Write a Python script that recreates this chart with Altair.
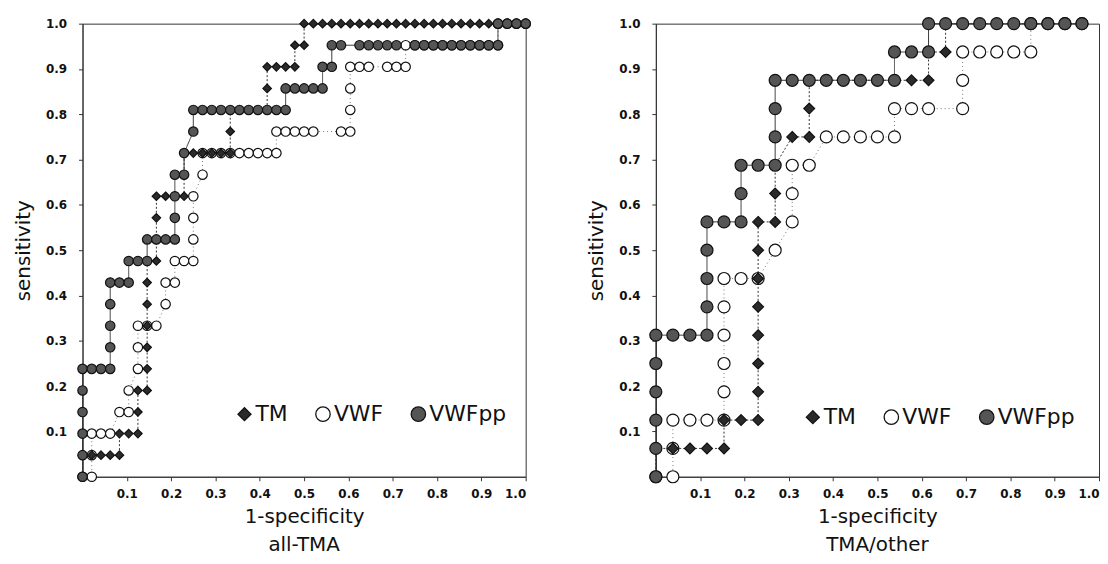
import altair as alt
import pandas as pd

# ROC points as (false-positive count, true-positive count)
N_NEG_ALL, N_POS_ALL = 48, 21
N_NEG_OTH, N_POS_OTH = 26, 16

TM_ALL = [(0, 0), (0, 1), (1, 1), (2, 1), (3, 1), (4, 1), (4, 2), (5, 2), (6, 2), (6, 3), (6, 4), (7, 4),
          (7, 5), (7, 6), (7, 7), (7, 8), (7, 9), (7, 10), (8, 10), (8, 11), (8, 12), (8, 13), (9, 13),
          (10, 13), (11, 13), (11, 14), (11, 15), (12, 15), (13, 15), (14, 15), (15, 15), (16, 15),
          (16, 16), (16, 17), (17, 17), (18, 17), (19, 17), (20, 17), (20, 18), (20, 19), (21, 19),
          (22, 19), (23, 19), (23, 20), (24, 20), (24, 21), (25, 21), (26, 21), (27, 21), (28, 21),
          (29, 21), (30, 21), (31, 21), (32, 21), (33, 21), (34, 21), (35, 21), (36, 21), (37, 21),
          (38, 21), (39, 21), (40, 21), (41, 21), (42, 21), (43, 21), (44, 21), (45, 21), (46, 21),
          (47, 21), (48, 21)]

VWF_ALL = [(0, 0), (1, 0), (1, 1), (1, 2), (2, 2), (3, 2), (4, 3), (5, 3), (5, 4), (6, 5), (6, 6), (6, 7),
           (7, 7), (8, 7), (9, 8), (9, 9), (10, 9), (10, 10), (11, 10), (12, 10), (12, 11), (12, 12),
           (12, 13), (13, 14), (13, 15), (14, 15), (15, 15), (16, 15), (17, 15), (18, 15), (19, 15),
           (20, 15), (21, 15), (21, 16), (22, 16), (23, 16), (24, 16), (25, 16), (28, 16), (29, 16),
           (29, 17), (29, 18), (29, 19), (30, 19), (31, 19), (33, 19), (34, 19), (35, 19), (35, 20),
           (36, 20), (37, 20), (38, 20), (39, 20), (40, 20), (41, 20), (42, 20), (43, 20), (44, 20),
           (45, 20), (45, 21), (46, 21), (47, 21), (48, 21)]

VWFPP_ALL = [(0, 0), (0, 1), (0, 2), (0, 3), (0, 4), (0, 5), (1, 5), (2, 5), (3, 5), (3, 6), (3, 7),
             (3, 8), (3, 9), (4, 9), (5, 9), (5, 10), (6, 10), (7, 10), (7, 11), (8, 11), (9, 11),
             (10, 11), (10, 12), (10, 13), (10, 14), (11, 14), (11, 15), (12, 16), (12, 17), (13, 17),
             (14, 17), (15, 17), (16, 17), (17, 17), (18, 17), (19, 17), (20, 17), (21, 17), (22, 17),
             (22, 18), (23, 18), (24, 18), (25, 18), (26, 18), (26, 19), (27, 19), (27, 20), (28, 20),
             (30, 20), (31, 20), (32, 20), (33, 20), (34, 20), (36, 20), (37, 20), (38, 20), (39, 20),
             (40, 20), (41, 20), (42, 20), (43, 20), (44, 20), (45, 20), (45, 21), (46, 21), (47, 21),
             (48, 21)]

TM_OTH = [(0, 0), (0, 1), (1, 1), (2, 1), (3, 1), (4, 1), (4, 2), (5, 2), (6, 2), (6, 3), (6, 4), (6, 5),
          (6, 6), (6, 7), (6, 8), (6, 9), (7, 9), (7, 10), (7, 11), (8, 12), (9, 12), (9, 13), (9, 14),
          (10, 14), (11, 14), (12, 14), (13, 14), (14, 14), (15, 14), (16, 14), (16, 15), (17, 15),
          (17, 16), (18, 16), (19, 16), (20, 16), (21, 16), (22, 16), (23, 16), (24, 16), (25, 16)]

VWF_OTH = [(0, 0), (1, 0), (1, 1), (1, 2), (2, 2), (3, 2), (4, 2), (4, 3), (4, 4), (4, 5), (4, 6), (4, 7),
           (5, 7), (6, 7), (7, 8), (8, 9), (8, 10), (8, 11), (9, 11), (10, 12), (11, 12), (12, 12),
           (13, 12), (14, 12), (14, 13), (15, 13), (16, 13), (18, 13), (18, 14), (18, 15), (19, 15),
           (20, 15), (21, 15), (22, 15), (22, 16), (23, 16), (24, 16), (25, 16)]

VWFPP_OTH = [(0, 0), (0, 1), (0, 2), (0, 3), (0, 4), (0, 5), (1, 5), (2, 5), (3, 5), (3, 6), (3, 7),
             (3, 8), (3, 9), (4, 9), (5, 9), (5, 10), (5, 11), (6, 11), (7, 11), (7, 12), (7, 13),
             (7, 14), (8, 14), (9, 14), (10, 14), (11, 14), (12, 14), (13, 14), (14, 14), (14, 15),
             (15, 15), (16, 15), (16, 16), (17, 16), (18, 16), (19, 16), (20, 16), (21, 16), (22, 16),
             (23, 16), (24, 16), (25, 16)]

SERIES = ["TM", "VWF", "VWFpp"]
DIAMOND = "M0,-0.9L0.9,0L0,0.9L-0.9,0Z"
SHAPES = [DIAMOND, "circle", "circle"]
FILLS = ["#2a2a2a", "#ffffff", "#555555"]
STROKES = ["#111111", "#111111", "#111111"]
DASHES = {"TM": [2, 2], "VWF": [1, 3], "VWFpp": [1, 0]}
LINE_COLORS = {"TM": "#333333", "VWF": "#777777", "VWFpp": "#333333"}
TICKS = [0.1, 0.2, 0.3, 0.4, 0.5, 0.6, 0.7, 0.8, 0.9, 1.0]
PANEL_TITLES = ["all-TMA", "TMA/other"]


def frame(groups, n_neg, n_pos):
    rows = []
    for name, pts in groups:
        for i, (k, j) in enumerate(pts):
            rows.append({"series": name, "idx": i, "fpr": k / n_neg, "sens": j / n_pos})
    return pd.DataFrame(rows)


df_all = frame([("VWF", VWF_ALL), ("TM", TM_ALL), ("VWFpp", VWFPP_ALL)], N_NEG_ALL, N_POS_ALL)
df_oth = frame([("VWF", VWF_OTH), ("TM", TM_OTH), ("VWFpp", VWFPP_OTH)], N_NEG_OTH, N_POS_OTH)


def panel(df, title, size, lx, ly):
    x = alt.X("fpr:Q", scale=alt.Scale(domain=[0, 1], nice=False, zero=False),
              axis=alt.Axis(values=TICKS, format=".1f", title="1-specificity"))
    y = alt.Y("sens:Q", scale=alt.Scale(domain=[0, 1], nice=False, zero=False),
              axis=alt.Axis(values=TICKS, format=".1f", title="sensitivity"))
    leg = alt.Legend(orient="none", legendX=lx, legendY=ly, direction="horizontal", title=None,
                     labelFontSize=22, labelFont="DejaVu Sans", labelColor="#111",
                     symbolSize=210, symbolStrokeWidth=1.3,
                     columnPadding=24, labelOffset=0, padding=0)
    layers = []
    for s in SERIES:
        layers.append(
            alt.Chart(df).transform_filter(alt.datum.series == s).mark_line(
                strokeWidth=1, color=LINE_COLORS[s], strokeDash=DASHES[s]
            ).encode(x=x, y=y, order=alt.Order("idx:Q"))
        )
    pts = alt.Chart(df).mark_point(filled=True, opacity=1, strokeWidth=1.2, size=size).encode(
        x=x, y=y,
        shape=alt.Shape("series:N", scale=alt.Scale(domain=SERIES, range=SHAPES), legend=leg),
        fill=alt.Fill("series:N", scale=alt.Scale(domain=SERIES, range=FILLS), legend=leg),
        stroke=alt.Stroke("series:N", scale=alt.Scale(domain=SERIES, range=STROKES), legend=leg))
    layers.append(pts)
    return alt.layer(*layers).properties(
        width=446, height=456,
        title=alt.TitleParams(title, orient="bottom", fontSize=20, font="DejaVu Sans",
                              fontWeight="normal", color="#111", offset=9))


left = panel(df_all, PANEL_TITLES[0], 90, 152, 382)
right = panel(df_oth, PANEL_TITLES[1], 146, 147, 385)

chart = alt.hconcat(left, right, spacing=53).resolve_scale(
    shape="independent", fill="independent", stroke="independent"
).resolve_legend(shape="independent", fill="independent", stroke="independent").configure_view(
    stroke="#333", strokeWidth=1
).configure_axis(
    grid=False, labelFont="DejaVu Sans", labelFontSize=12, labelFontWeight="bold", labelColor="#111",
    titleFont="DejaVu Sans", titleFontSize=20, titleFontWeight="normal", titleColor="#111",
    domainColor="#333", tickColor="#333", tickSize=4
).configure_axisX(labelPadding=8, titlePadding=7).configure_axisY(
    labelPadding=12, titlePadding=12
).properties(padding={"left": 5, "top": 5, "right": 0, "bottom": -2}, background="white")

chart.save("out.html", embed_options={"renderer": "svg", "actions": False})
